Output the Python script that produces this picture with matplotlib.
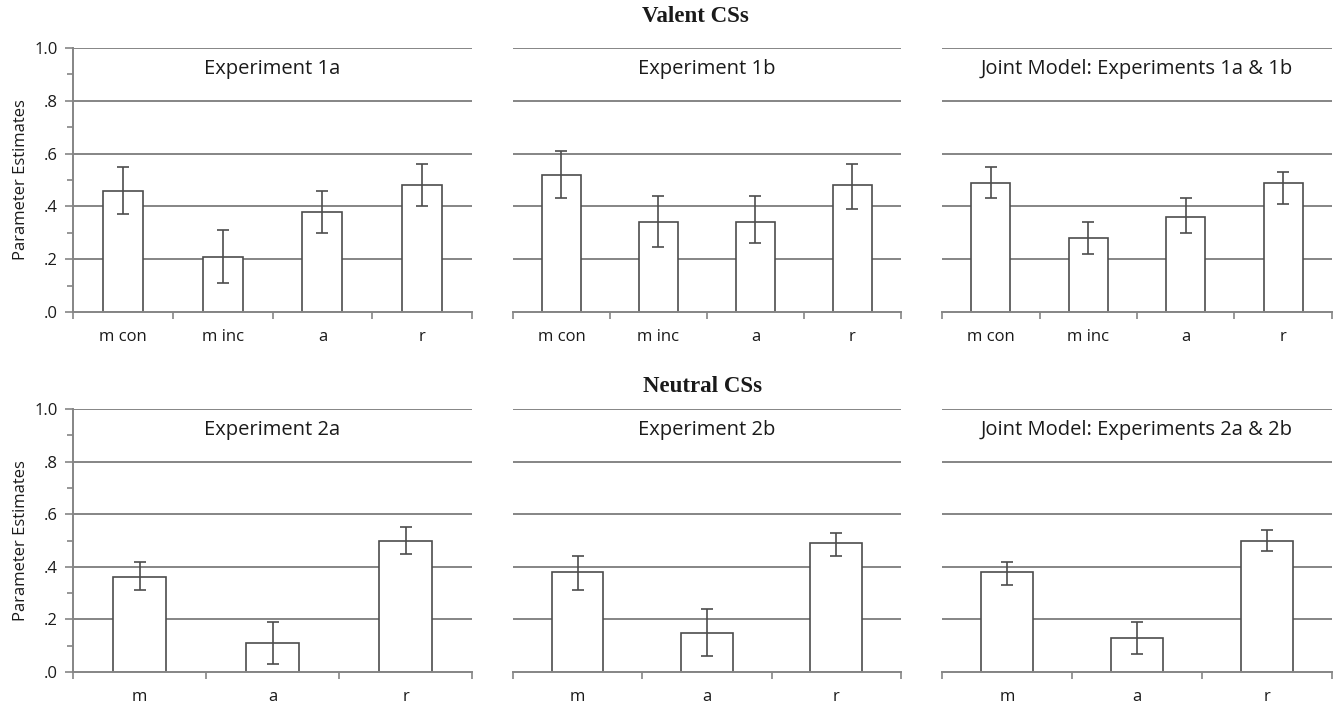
import numpy as np
import matplotlib.pyplot as plt
from matplotlib.ticker import MultipleLocator, FixedLocator

# Valent CSs (top row)
valent_cats = ['m con', 'm inc', 'a', 'r']
valent_titles = ['Experiment 1a', 'Experiment 1b', 'Joint Model: Experiments 1a & 1b']
exp1a = [0.46, 0.21, 0.38, 0.48]
exp1a_lo = [0.37, 0.11, 0.30, 0.40]
exp1a_hi = [0.55, 0.31, 0.46, 0.56]
exp1b = [0.52, 0.34, 0.34, 0.48]
exp1b_lo = [0.43, 0.245, 0.26, 0.39]
exp1b_hi = [0.61, 0.44, 0.44, 0.56]
joint1 = [0.49, 0.28, 0.36, 0.49]
joint1_lo = [0.43, 0.22, 0.30, 0.41]
joint1_hi = [0.55, 0.34, 0.43, 0.53]

# Neutral CSs (bottom row)
neutral_cats = ['m', 'a', 'r']
neutral_titles = ['Experiment 2a', 'Experiment 2b', 'Joint Model: Experiments 2a & 2b']
exp2a = [0.36, 0.11, 0.50]
exp2a_lo = [0.31, 0.03, 0.45]
exp2a_hi = [0.42, 0.19, 0.55]
exp2b = [0.38, 0.15, 0.49]
exp2b_lo = [0.31, 0.06, 0.44]
exp2b_hi = [0.44, 0.24, 0.53]
joint2 = [0.38, 0.13, 0.50]
joint2_lo = [0.33, 0.07, 0.46]
joint2_hi = [0.42, 0.19, 0.54]

ytick_vals = [0.0, 0.2, 0.4, 0.6, 0.8, 1.0]
ytick_labels = ['.0', '.2', '.4', '.6', '.8', '1.0']

SANS = 'Open Sans'
GRID = '#858585'
EDGE = '#4d4d4d'
TXT = '#1a1a1a'

fig = plt.figure(figsize=(13.33, 7.08), dpi=100)

cols = [(0.0548, 0.2993), (0.3848, 0.2911), (0.7067, 0.2925)]
rows = [(0.5593, 0.3729), (0.0508, 0.3715)]


def draw_panel(ax, cats, vals, lo, hi, title, first):
    x = np.arange(len(cats))
    vals = np.array(vals)
    yerr = [vals - np.array(lo), np.array(hi) - vals]
    for y in ytick_vals[1:]:
        ax.axhline(y, color=GRID, lw=1.4, zorder=0)
    ax.bar(x, vals, width=0.4, color='white', edgecolor=EDGE, lw=1.2, zorder=2)
    ax.errorbar(x, vals, yerr=yerr, fmt='none', ecolor=EDGE, elinewidth=1.2,
                capsize=4, capthick=1.2, zorder=3)
    ax.set_xlim(-0.5, len(cats) - 0.5)
    ax.set_ylim(0, 1.0)
    ax.set_xticks(x)
    ax.set_xticklabels(cats, fontfamily=SANS, fontsize=12, color=TXT)
    ax.xaxis.set_minor_locator(FixedLocator(np.arange(len(cats) + 1) - 0.5))
    ax.tick_params(axis='x', which='major', length=0, pad=12)
    ax.tick_params(axis='x', which='minor', length=5, width=1.2, color=GRID, direction='out')
    for s in ['top', 'right']:
        ax.spines[s].set_visible(False)
    ax.spines['bottom'].set_color(GRID)
    ax.spines['bottom'].set_linewidth(1.4)
    if first:
        ax.set_yticks(ytick_vals)
        ax.set_yticklabels(ytick_labels, fontfamily=SANS, fontsize=12, color=TXT)
        ax.yaxis.set_minor_locator(MultipleLocator(0.1))
        ax.tick_params(axis='y', which='major', length=6, width=1.2, color=GRID, pad=5)
        ax.tick_params(axis='y', which='minor', length=4, width=1.2, color=GRID)
        ax.spines['left'].set_color(GRID)
        ax.spines['left'].set_linewidth(1.4)
        ax.set_ylabel('Parameter Estimates', fontfamily=SANS, fontsize=12,
                      color=TXT, labelpad=4)
    else:
        ax.spines['left'].set_visible(False)
        ax.set_yticks([])
    ax.text(0.5, 0.92, title, transform=ax.transAxes, ha='center', va='center',
            fontfamily=SANS, fontsize=14.5, color=TXT)


valent = [(exp1a, exp1a_lo, exp1a_hi), (exp1b, exp1b_lo, exp1b_hi), (joint1, joint1_lo, joint1_hi)]
neutral = [(exp2a, exp2a_lo, exp2a_hi), (exp2b, exp2b_lo, exp2b_hi), (joint2, joint2_lo, joint2_hi)]

for i, (v, lo, hi) in enumerate(valent):
    ax = fig.add_axes([cols[i][0], rows[0][0], cols[i][1], rows[0][1]])
    draw_panel(ax, valent_cats, v, lo, hi, valent_titles[i], i == 0)

for i, (v, lo, hi) in enumerate(neutral):
    ax = fig.add_axes([cols[i][0], rows[1][0], cols[i][1], rows[1][1]])
    draw_panel(ax, neutral_cats, v, lo, hi, neutral_titles[i], i == 0)

fig.text(0.522, 0.977, 'Valent CSs', ha='center', va='center',
         fontfamily='Liberation Serif', fontweight='bold', fontsize=16.5, color=TXT)
fig.text(0.527, 0.454, 'Neutral CSs', ha='center', va='center',
         fontfamily='Liberation Serif', fontweight='bold', fontsize=16.5, color=TXT)

fig.savefig('out.png', dpi=100)
